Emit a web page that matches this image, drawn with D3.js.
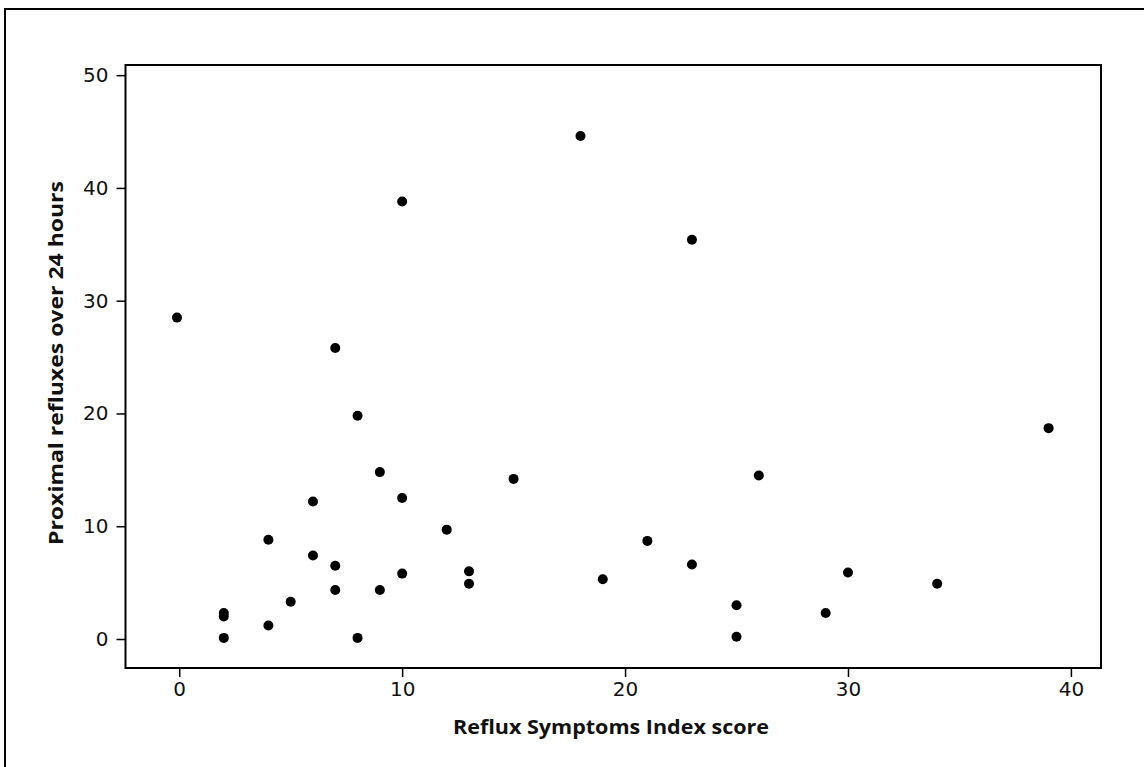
<!DOCTYPE html>
<html>
<head>
<meta charset="utf-8">
<script src="https://cdn.jsdelivr.net/npm/d3@7"></script>
<style>
  html, body { margin: 0; padding: 0; background: #fff; }
  svg { display: block; }
</style>
</head>
<body>
<svg id="chart" width="1144" height="767"></svg>
<script>
// Data
const rsiScore = [-0.1, 2, 2, 2, 4, 4, 5, 6, 6, 7, 7, 7, 8, 8, 9, 9, 10, 10, 10, 12, 13, 13, 15, 18, 19, 21, 23, 23, 25, 25, 26, 29, 30, 34, 39];
const proximalRefluxes = [28.5, 0.1, 2.0, 2.3, 8.8, 1.2, 3.3, 12.2, 7.4, 25.8, 6.5, 4.35, 19.8, 0.1, 14.8, 4.35, 38.8, 12.5, 5.8, 9.7, 6.0, 4.9, 14.2, 44.6, 5.3, 8.7, 35.4, 6.6, 3.0, 0.2, 14.5, 2.3, 5.9, 4.9, 18.7];
const xTicks = [0, 10, 20, 30, 40];
const yTicks = [0, 10, 20, 30, 40, 50];
const xTitle = "Reflux Symptoms Index score";
const yTitle = "Proximal refluxes over 24 hours";

const svg = d3.select("#chart");
const W = 1144, H = 767;
const plot = { left: 125.5, right: 1101, top: 65, bottom: 668 };

// outer frame (extends past the right/bottom edges in the reference)
svg.append("rect")
  .attr("x", 5).attr("y", 9)
  .attr("width", W + 10).attr("height", H + 10)
  .attr("fill", "none").attr("stroke", "#000").attr("stroke-width", 2);

const x = d3.scaleLinear().domain([-2.41, 41.35]).range([plot.left, plot.right]);
const y = d3.scaleLinear().domain([-2.57, 50.9]).range([plot.bottom, plot.top]);

const tickFont = "'DejaVu Sans', sans-serif";
const titleFont = "'Open Sans', 'DejaVu Sans', sans-serif";

// x axis
const xAxis = svg.append("g")
  .attr("transform", `translate(0,${plot.bottom})`)
  .call(d3.axisBottom(x).tickValues(xTicks).tickSize(9).tickPadding(5).tickFormat(d3.format("d")));
xAxis.select(".domain").remove();
xAxis.selectAll("line").attr("stroke", "#000").attr("stroke-width", 1.5);
xAxis.selectAll("text").attr("font-family", tickFont).attr("font-size", 20).attr("fill", "#111");

// y axis
const yAxis = svg.append("g")
  .attr("transform", `translate(${plot.left},0)`)
  .call(d3.axisLeft(y).tickValues(yTicks).tickSize(9).tickPadding(8).tickFormat(d3.format("d")));
yAxis.select(".domain").remove();
yAxis.selectAll("line").attr("stroke", "#000").attr("stroke-width", 1.5);
yAxis.selectAll("text").attr("font-family", tickFont).attr("font-size", 20).attr("fill", "#111");

// plot frame
svg.append("rect")
  .attr("x", plot.left).attr("y", plot.top)
  .attr("width", plot.right - plot.left).attr("height", plot.bottom - plot.top)
  .attr("fill", "none").attr("stroke", "#000").attr("stroke-width", 2);

// points
svg.append("g").selectAll("circle")
  .data(rsiScore.map((v, i) => [v, proximalRefluxes[i]]))
  .join("circle")
  .attr("cx", d => x(d[0]))
  .attr("cy", d => y(d[1]))
  .attr("r", 5)
  .attr("fill", "#000");

// titles
svg.append("text")
  .attr("x", 611).attr("y", 734)
  .attr("text-anchor", "middle")
  .attr("font-family", titleFont).attr("font-weight", "bold").attr("font-size", 19.5)
  .attr("textLength", 316).attr("lengthAdjust", "spacingAndGlyphs")
  .attr("fill", "#111")
  .text(xTitle);

svg.append("text")
  .attr("transform", "translate(63,363) rotate(-90)")
  .attr("text-anchor", "middle")
  .attr("font-family", titleFont).attr("font-weight", "bold").attr("font-size", 19.5)
  .attr("textLength", 364).attr("lengthAdjust", "spacingAndGlyphs")
  .attr("fill", "#111")
  .text(yTitle);
</script>
</body>
</html>
